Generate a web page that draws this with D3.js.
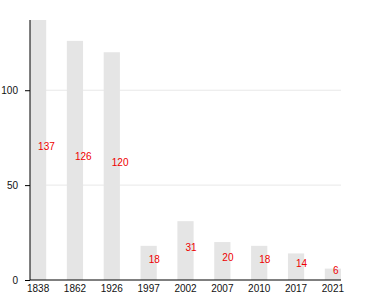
<!DOCTYPE html>
<html>
<head>
<meta charset="utf-8">
<script src="https://cdn.jsdelivr.net/npm/d3@7"></script>
<style>
  body { margin: 0; background: #fff; }
  text { font-family: "Liberation Sans", Arial, sans-serif; }
</style>
</head>
<body>
<div id="chart"></div>
<script>
// data
var years = ["1838", "1862", "1926", "1997", "2002", "2007", "2010", "2017", "2021"];
var values = [137, 126, 120, 18, 31, 20, 18, 14, 6];
var yTicks = [0, 50, 100];

var W = 380, H = 300;
var margin = {top: 20, right: 39, bottom: 20, left: 30},
    width = W - margin.left - margin.right,
    height = H - margin.top - margin.bottom;

var svg = d3.select("#chart")
  .append("svg")
    .attr("width", W)
    .attr("height", H)
  .append("g")
    .attr("transform", "translate(" + margin.left + "," + margin.top + ")");

var x = d3.scaleBand()
  .domain(years)
  .range([0, width])
  .paddingInner(0.56)
  .paddingOuter(0);

var y = d3.scaleLinear()
  .domain([0, 137])
  .range([height, 0]);

// gridlines
svg.append("g")
  .selectAll("line")
  .data(yTicks.filter(d => d > 0))
  .enter()
  .append("line")
    .attr("x1", 0)
    .attr("x2", width)
    .attr("y1", d => y(d))
    .attr("y2", d => y(d))
    .attr("stroke", "#e8e8e8")
    .attr("stroke-width", 1);

// bars
svg.append("g")
  .selectAll("rect")
  .data(values)
  .enter()
  .append("rect")
    .attr("x", (d, i) => x(years[i]))
    .attr("y", d => y(d))
    .attr("width", x.bandwidth())
    .attr("height", d => height - y(d))
    .attr("fill", "#e5e5e5");

// value labels
svg.append("g")
  .selectAll("text")
  .data(values)
  .enter()
  .append("text")
    .attr("x", (d, i) => x(years[i]) + x.bandwidth() / 2)
    .attr("y", d => (y(d) + height) / 2)
    .attr("fill", "#ee0000")
    .attr("font-size", "10px")
    .text(d => d);

// y axis
var yAxis = svg.append("g")
  .call(d3.axisLeft(y).tickValues(yTicks).tickSize(5).tickPadding(7));
yAxis.select(".domain").attr("stroke", "#000").attr("d", "M0," + height + "V0");
yAxis.selectAll("text").attr("font-size", "10px").attr("fill", "#111");

// x axis
var xAxis = svg.append("g")
  .attr("transform", "translate(0," + height + ")")
  .call(d3.axisBottom(x).tickSize(0).tickPadding(5));
xAxis.select(".domain").attr("stroke", "#000").attr("d", "M0,0H" + width);
xAxis.selectAll("text").attr("font-size", "10px").attr("fill", "#111");
</script>
</body>
</html>
